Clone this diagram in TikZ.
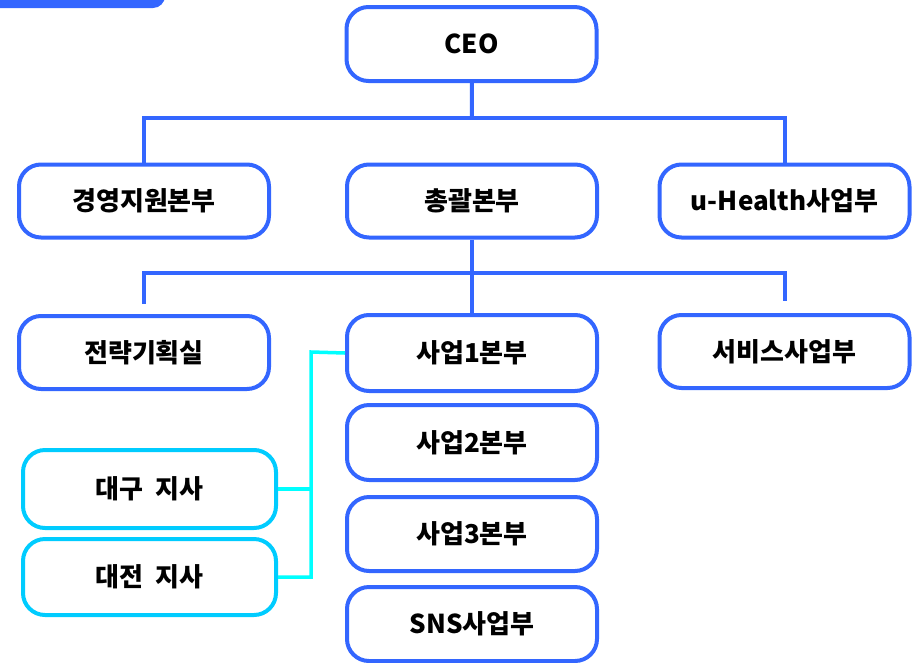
\documentclass[tikz,border=0pt]{standalone}
\usepackage{fontspec}
\setmainfont{Noto Sans CJK KR}
\usepackage{tikz}
\usetikzlibrary{positioning, calc}
\definecolor{orgblue}{HTML}{3366FF}
\definecolor{branchcyan}{HTML}{00CCFF}
\definecolor{linkcyan}{HTML}{00FFFF}

\begin{document}
\begin{tikzpicture}[x=1pt, y=-1pt, font=\bfseries\fontsize{26}{30}\selectfont,
    box/.style={rectangle, rounded corners=22pt, draw=orgblue, line width=4pt, fill=white,
      minimum width=250pt, minimum height=73pt, text centered, inner sep=0pt},
    branchbox/.style={box, draw=branchcyan, minimum width=253pt, minimum height=76pt},
    conn/.style={line width=4pt, orgblue},
    link/.style={line width=3.5pt, linkcyan}]
    \useasboundingbox (0,0) rectangle (921,662);

    % corner tab
    \fill[orgblue, rounded corners=12pt] (-30,-30) rectangle (165,8);

    % top
    \node (ceo) [box, minimum height=74pt] at (471.5,44) {CEO};

    % second level
    \node (chong) [box] at (472,201) {총괄본부};
    \node (gyeong) [box] at (144,201) {경영지원본부};
    \node (uhealth) [box] at (784.5,201) {u-Health사업부};

    % third level
    \node (jeonryak) [box] at (144,352.5) {전략기획실};
    \node (saup1) [box, minimum height=76pt] at (472,353) {사업1본부};
    \node (service) [box] at (784.5,351.5) {서비스사업부};
    \node (saup2) [box, below=10pt of saup1, minimum height=75pt] {사업2본부};
    \node (saup3) [box, below=13pt of saup2, minimum height=74pt] {사업3본부};
    \node (sns) [box, below=12pt of saup3, minimum height=74pt] {SNS사업부};

    % branches
    \node (daegu) [branchbox, minimum height=78pt] at (149.5,489) {대구\hspace{0.45em}지사};
    \node (daejeon) [branchbox] at (149.5,577) {대전\hspace{0.45em}지사};

    % Connections
    \coordinate (bus1) at (472,118);
    \coordinate (bus2) at (472,273);
    \coordinate (elbow) at (311,352);
    \draw[conn] (ceo) -- (bus1);
    \draw[conn] (gyeong.north) |- (bus1) -| (uhealth.north);
    \draw[conn] (chong) -- (saup1);
    \draw[conn] ([yshift=10pt]jeonryak.north) |- (bus2) -| ([yshift=12pt]service.north);

    \draw[link] (saup1.west) -- (elbow) |- (daejeon.east);
    \draw[link] (daegu.east) -- (daegu.east -| elbow);
\end{tikzpicture}
\end{document}
